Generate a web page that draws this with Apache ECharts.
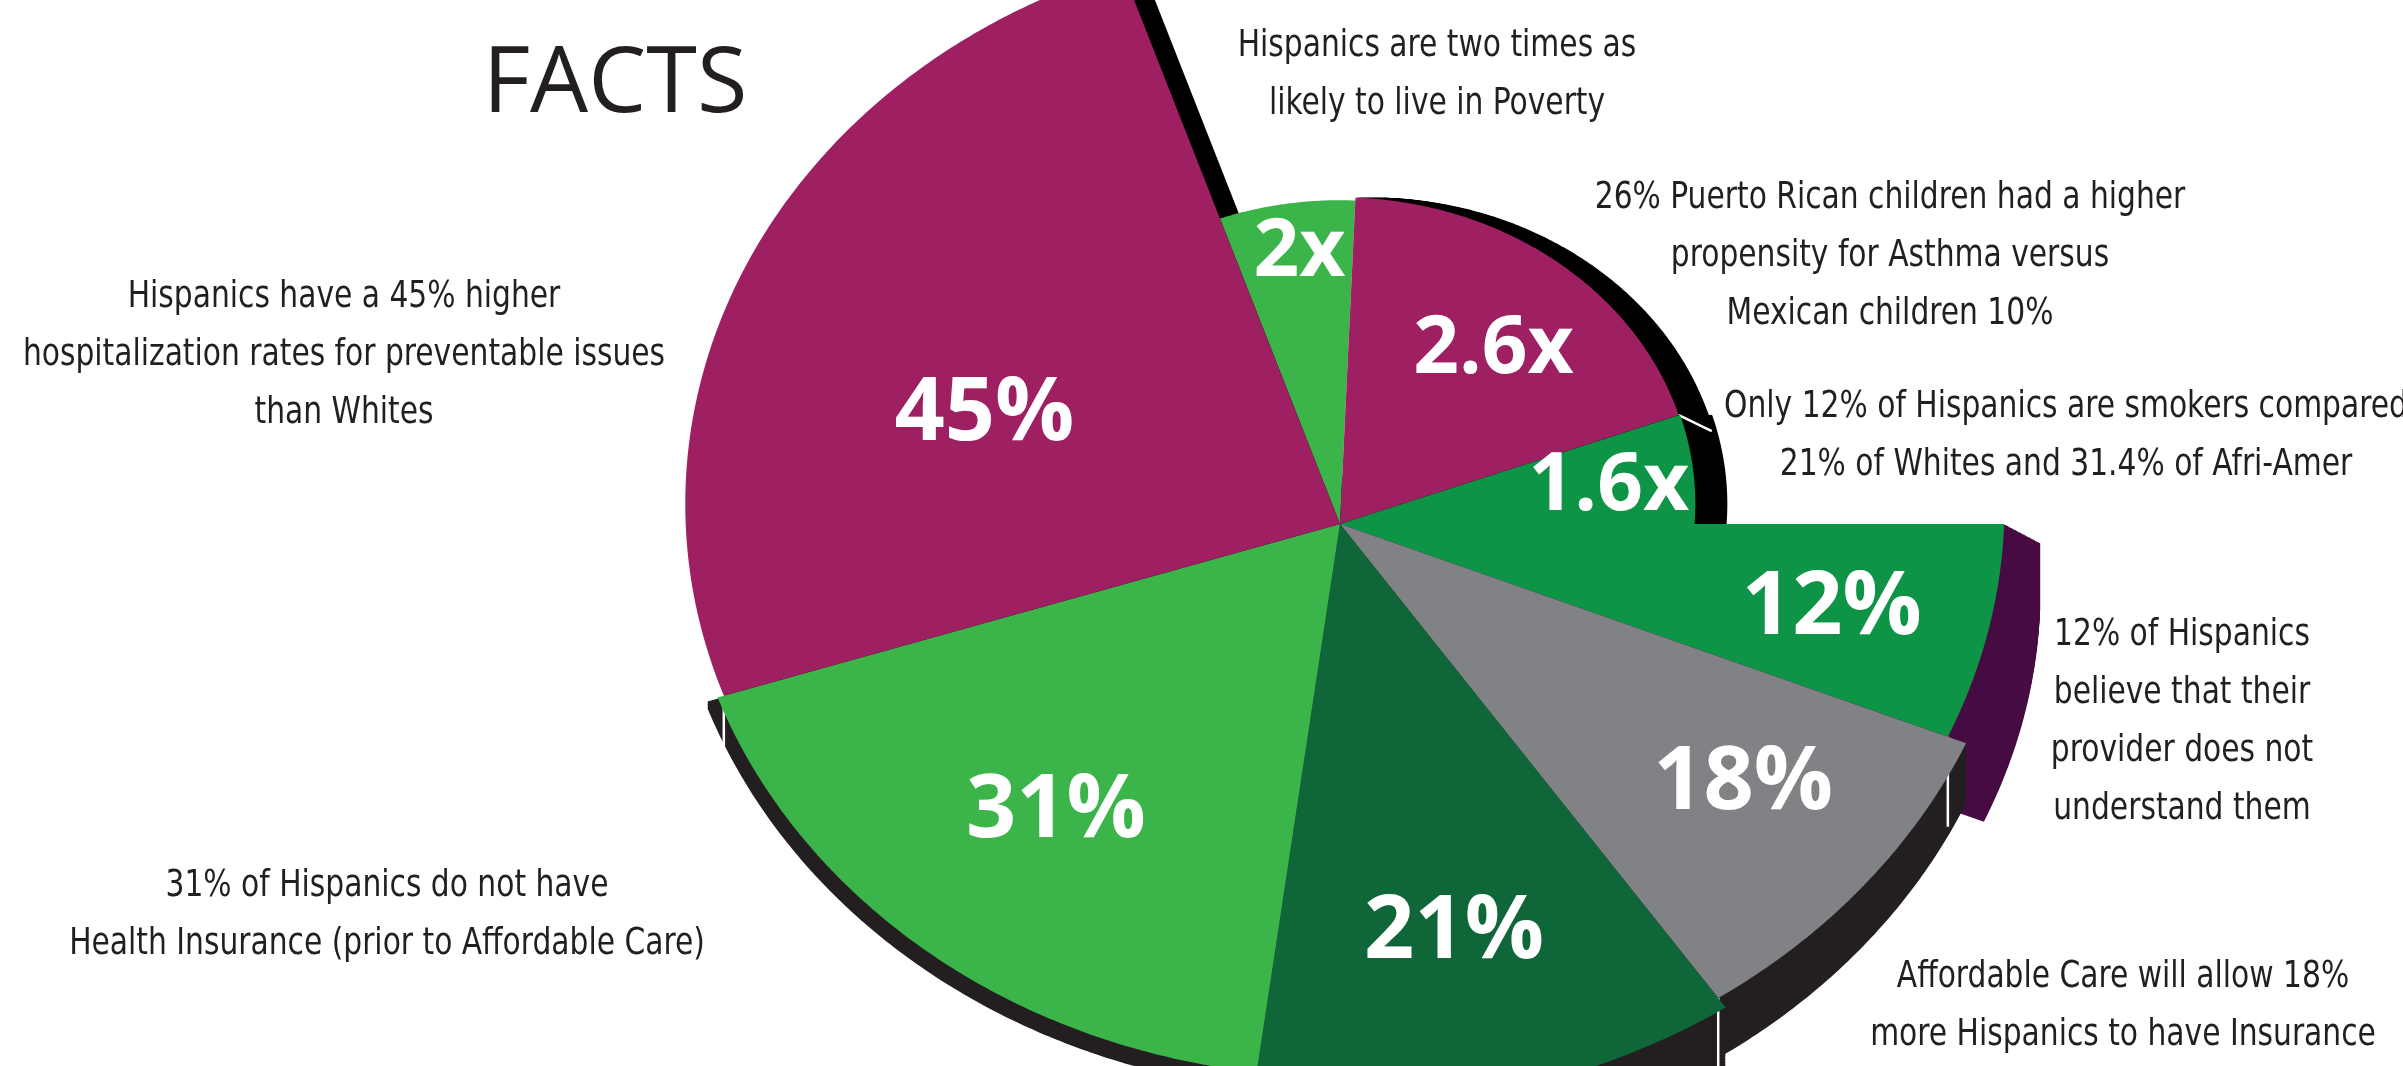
<!DOCTYPE html>
<html>
<head>
<meta charset="utf-8">
<title>Facts</title>
<script src="https://cdn.jsdelivr.net/npm/echarts@6/dist/echarts.min.js"></script>
<style>
  html, body { margin: 0; padding: 0; background: #fff; }
  #chart { width: 2403px; height: 1066px; }
</style>
</head>
<body>
<div id="chart"></div>
<script>
// slices, clockwise from the top
const sliceNames = ['2x', '2.6x', '1.6x', '12%', '18%', '21%', '31%', '45%'];
// angular share of each slice, degrees
const sliceSpans = [21.15, 67.29, 20.36, 22.0, 33.35, 42.15, 64.67, 89.03];
// how far each slice reaches out, relative to the big slices
const sliceReach = [0.533, 0.538, 0.54, 1.01, 1.04, 1.06, 1.005, 0.995];

const notes = [
  'Hispanics are two times as\nlikely to live in Poverty',
  '26% Puerto Rican children had a higher\npropensity for Asthma versus\nMexican children 10%',
  'Only 12% of Hispanics are smokers compared\n21% of Whites and 31.4% of Afri-Amer',
  'Hispanics have a 45% higher\nhospitalization rates for preventable issues\nthan Whites',
  '12% of Hispanics\nbelieve that their\nprovider does not\nunderstand them',
  '31% of Hispanics do not have\nHealth Insurance (prior to Affordable Care)',
  'Affordable Care will allow 18%\nmore Hispanics to have Insurance'
];

// ---- layout / style ----
const W = 2403, H = 1066;
const CX = 1340, CY = 504;      // centre of the (flattened) pie outline
const RX = 658, RY = 570;
const APEX = -20 / RY;          // the slices meet a little below the centre
const START = 108.8;            // where the first slice begins

// tick = white edge line drawn down the side wall at the slice's start corner
const sliceStyle = [
  { color: '#3bb44a', depth: 0.845, sweep: 0.54, size: 80, shadow: null },
  { color: '#9e1f62', depth: 0.68, sweep: 0.52, size: 80, shadow: { color: '#000', path: [[30, 0]], grow: 0 } },
  { color: '#0e9447', depth: 0.76, sweep: 0.56, size: 80, shadow: { color: '#000', path: [[32, 0]], grow: 0 }, tick: [33, 16] },
  { color: '#0e9447', depth: 0.76, sweep: 0.51, size: 88, shadow: { color: '#470b43', path: [[36, 19], [36, 85]], grow: 0 } },
  { color: '#808285', depth: 0.75, sweep: 0.44, size: 88, shadow: { color: '#231f20', path: [[0, 60]], grow: 0 }, tick: [0, 90] },
  { color: '#0f6638', depth: 0.72, sweep: 0.50, size: 88, shadow: { color: '#231f20', path: [[0, 60]], grow: 0 }, tick: [0, 70] },
  { color: '#3bb44a', depth: 0.68, sweep: 0.51, size: 88, shadow: { color: '#231f20', path: [[0, 8]], grow: 0.016 } },
  { color: '#9e1f62', depth: 0.57, sweep: 0.42, size: 88, shadow: { color: '#000', path: [[24, 8]], grow: 0 }, tick: [0, 55] }
];
const shadowOrder = [7, 0, 1, 2, 3, 6, 4, 5];

const notePos = [
  [1437, 75], [1890, 256], [2066, 436], [344, 355], [2182, 722], [387, 915], [2123, 1006]
];

const starts = [];
sliceSpans.reduce((acc, s) => { starts.push(acc); return acc - s; }, START);

// distance from the apex to the outline of radius R along direction th
function rayLen(th, R) {
  const b = APEX * Math.sin(th);
  return -b + Math.sqrt(b * b - APEX * APEX + R * R);
}

function sectorPoints(api, i, grow) {
  const R = sliceReach[i] * (1 + grow);
  const t0 = starts[i] * Math.PI / 180;
  const t1 = (starts[i] - sliceSpans[i]) * Math.PI / 180;
  const l0 = rayLen(t0, R), l1 = rayLen(t1, R);
  let f0 = Math.atan2(APEX + l0 * Math.sin(t0), l0 * Math.cos(t0));
  let f1 = Math.atan2(APEX + l1 * Math.sin(t1), l1 * Math.cos(t1));
  while (f1 > f0) f1 -= Math.PI * 2;
  const pts = [api.coord([0, APEX])];
  const n = Math.max(2, Math.ceil((f0 - f1) * 180 / Math.PI * 2));
  for (let k = 0; k <= n; k++) {
    const f = f0 + (f1 - f0) * k / n;
    pts.push(api.coord([R * Math.cos(f), R * Math.sin(f)]));
  }
  return pts;
}

function renderSlice(params, api) {
  const i = api.value(0);
  const st = sliceStyle[i];
  const mid = (starts[i] - sliceSpans[i] * st.sweep) * Math.PI / 180;
  const rr = rayLen(mid, sliceReach[i]) * st.depth;
  const lp = api.coord([rr * Math.cos(mid), APEX + rr * Math.sin(mid)]);
  return {
    type: 'group',
    children: [
      { type: 'polygon', shape: { points: sectorPoints(api, i, 0) }, style: { fill: st.color } },
      {
        type: 'text', x: lp[0], y: lp[1],
        style: {
          text: sliceNames[i], fill: '#fff', fontFamily: '"Open Sans", sans-serif',
          fontWeight: 'bold', fontSize: st.size, align: 'center', verticalAlign: 'middle'
        }
      }
    ]
  };
}

function renderShadow(params, api) {
  const i = api.value(0);
  const sh = sliceStyle[i].shadow;
  if (!sh) return null;
  const base = sectorPoints(api, i, sh.grow);
  const children = [];
  let px = 0, py = 0;
  sh.path.forEach(([tx, ty]) => {
    const len = Math.hypot(tx - px, ty - py);
    const steps = Math.max(1, Math.ceil(len / 1.5));
    for (let s = 1; s <= steps; s++) {
      const ox = px + (tx - px) * s / steps, oy = py + (ty - py) * s / steps;
      children.push({
        type: 'polygon',
        shape: { points: base.map(p => [p[0] + ox, p[1] + oy]) },
        style: { fill: sh.color }
      });
    }
    px = tx; py = ty;
  });
  return { type: 'group', children };
}

function renderTick(params, api) {
  const i = api.value(0);
  const tk = sliceStyle[i].tick;
  if (!tk) return null;
  const t = starts[i] * Math.PI / 180;
  const R = Math.min(sliceReach[i], sliceReach[(i + sliceNames.length - 1) % sliceNames.length]);
  const l = rayLen(t, R);
  const p = api.coord([l * Math.cos(t), APEX + l * Math.sin(t)]);
  return {
    type: 'line',
    shape: { x1: p[0], y1: p[1], x2: p[0] + tk[0], y2: p[1] + tk[1] },
    style: { stroke: '#fff', lineWidth: 2.5 }
  };
}

const chart = echarts.init(document.getElementById('chart'));
const noteFont = '"Liberation Sans Narrow", "DejaVu Sans Condensed", sans-serif';

const option = {
  backgroundColor: '#fff',
  animation: false,
  grid: { left: 0, right: 0, top: 0, bottom: 0 },
  xAxis: { type: 'value', min: -CX / RX, max: (W - CX) / RX, show: false },
  yAxis: { type: 'value', min: -(H - CY) / RY, max: CY / RY, show: false },
  series: [
    {
      type: 'custom', name: 'shadow', z: 1, silent: true,
      renderItem: renderShadow,
      data: shadowOrder.map(i => [i, sliceSpans[i]])
    },
    {
      type: 'custom', name: 'edges', z: 2, silent: true,
      renderItem: renderTick,
      data: sliceNames.map((n, i) => [i, sliceSpans[i]])
    },
    {
      type: 'custom', name: 'facts', z: 3, silent: true,
      renderItem: renderSlice,
      data: sliceNames.map((n, i) => ({ name: n, value: [i, sliceSpans[i]] }))
    }
  ],
  graphic: [
    {
      type: 'text', x: 615, y: 86,
      style: {
        text: 'FACTS', fill: '#231f20', fontFamily: '"Open Sans", sans-serif',
        fontSize: 92, align: 'center', verticalAlign: 'middle'
      }
    }
  ].concat(notes.map((t, k) => ({
    type: 'text', x: notePos[k][0], y: notePos[k][1], scaleX: 0.87,
    style: {
      text: t, fill: '#231f20', fontFamily: noteFont, fontSize: 38,
      lineHeight: 58, align: 'center', verticalAlign: 'middle'
    }
  })))
};

chart.setOption(option);
</script>
</body>
</html>
